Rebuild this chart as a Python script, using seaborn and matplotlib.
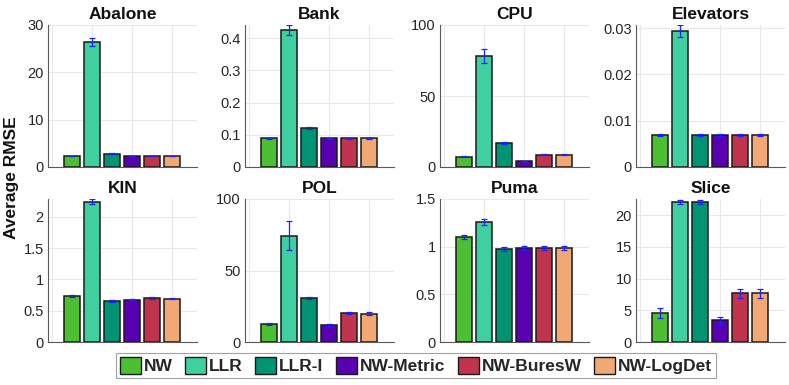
import matplotlib
matplotlib.use("Agg")
import matplotlib.pyplot as plt
import seaborn as sns
import pandas as pd
import numpy as np
from matplotlib.patches import Patch

sns.set_theme(style="white")
plt.rcParams['font.family'] = ['Liberation Sans', 'DejaVu Sans']

methods = ["NW", "LLR", "LLR-I", "NW-Metric", "NW-BuresW", "NW-LogDet"]
colors = ["#4DBF33", "#40CFA0", "#009473", "#5900B3", "#C0344D", "#F2A874"]
datasets = ["Abalone", "Bank", "CPU", "Elevators", "KIN", "POL", "Puma", "Slice"]

abalone = [2.34, 26.4, 2.84, 2.34, 2.34, 2.34]
abalone_err = [0.08, 0.75, 0.08, 0.08, 0.08, 0.08]
bank = [0.0895, 0.4245, 0.1205, 0.0885, 0.0885, 0.0885]
bank_err = [0.002, 0.016, 0.003, 0.002, 0.002, 0.002]
cpu = [7.3, 78.4, 16.7, 4.2, 8.6, 8.6]
cpu_err = [0.4, 4.9, 0.7, 0.2, 0.5, 0.5]
elevators = [0.00693, 0.0294, 0.00693, 0.00693, 0.00693, 0.00693]
elevators_err = [0.0002, 0.0012, 0.0002, 0.0002, 0.0002, 0.0002]
kin = [0.734, 2.24, 0.654, 0.675, 0.702, 0.691]
kin_err = [0.01, 0.04, 0.01, 0.01, 0.01, 0.01]
pol = [12.6, 74.3, 30.8, 11.7, 20.1, 19.9]
pol_err = [0.9, 10.0, 0.7, 0.7, 0.8, 0.8]
puma = [1.105, 1.259, 0.979, 0.986, 0.983, 0.983]
puma_err = [0.02, 0.03, 0.02, 0.02, 0.02, 0.02]
slice_ = [4.58, 22.1, 22.1, 3.42, 7.68, 7.68]
slice_err = [0.8, 0.35, 0.35, 0.6, 0.75, 0.75]

values = [abalone, bank, cpu, elevators, kin, pol, puma, slice_]
errors = [abalone_err, bank_err, cpu_err, elevators_err, kin_err, pol_err, puma_err, slice_err]

yticks = [
    [0, 10, 20, 30],
    [0, 0.1, 0.2, 0.3, 0.4],
    [0, 50, 100],
    [0, 0.01, 0.02, 0.03],
    [0, 0.5, 1, 1.5, 2],
    [0, 50, 100],
    [0, 0.5, 1, 1.5],
    [0, 5, 10, 15, 20],
]
yticklabels = [
    ["0", "10", "20", "30"],
    ["0", "0.1", "0.2", "0.3", "0.4"],
    ["0", "50", "100"],
    ["0", "0.01", "0.02", "0.03"],
    ["0", "0.5", "1", "1.5", "2"],
    ["0", "50", "100"],
    ["0", "0.5", "1", "1.5"],
    ["0", "5", "10", "15", "20"],
]
ytops = [30, 0.4405, 100, 0.0307, 2.285, 100, 1.5, 22.55]

W, H = 789, 385
fig = plt.figure(figsize=(W / 100, H / 100), dpi=100)

lefts = [48, 245, 440, 636]
axw = 149
rows = [(25, 167), (199, 342)]

for i, name in enumerate(datasets):
    r, c = divmod(i, 4)
    top, bot = rows[r]
    ax = fig.add_axes([lefts[c] / W, (H - bot) / H, axw / W, (bot - top) / H])
    df = pd.DataFrame({"method": methods, "value": values[i]})
    sns.barplot(data=df, x="method", y="value", hue="method", order=methods,
                hue_order=methods, palette=colors, saturation=1, width=0.8,
                edgecolor="#1a1a1a", linewidth=1.1, legend=False, ax=ax, zorder=3)
    ax.errorbar(np.arange(len(methods)), values[i], yerr=errors[i], fmt="none",
                ecolor="#2020ff", elinewidth=0.9, capsize=2.2, capthick=0.9, zorder=4)
    ax.set_xlim(-1.18, 6.25)
    ax.set_ylim(0, ytops[i])
    ax.set_yticks(yticks[i])
    ax.set_yticklabels(yticklabels[i])
    ax.set_xticks([-1, 1, 3, 5])
    ax.set_xticklabels([])
    ax.set_xlabel("")
    ax.set_ylabel("")
    ax.grid(True, color="#e8e8e8", linewidth=0.8, zorder=0)
    ax.set_axisbelow(True)
    for s in ["top", "right"]:
        ax.spines[s].set_visible(False)
    for s in ["left", "bottom"]:
        ax.spines[s].set_color("#5a5a5a")
        ax.spines[s].set_linewidth(0.8)
    ax.tick_params(axis="y", direction="in", length=2.5, width=0.6, colors="#5a5a5a",
                   labelcolor="#262626", labelsize=10.5, pad=3)
    ax.tick_params(axis="x", length=0)
    ax.set_title(name, fontsize=12.5, fontweight="bold", pad=4, color="#111111")

fig.text(12 / W, 1 - 178 / H, "Average RMSE", rotation=90, fontsize=12.5,
         fontweight="bold", ha="center", va="center", color="#111111")

handles = [Patch(facecolor=c, edgecolor="#1a1a1a", linewidth=1.0) for c in colors]
leg = fig.legend(handles, methods, ncol=6, loc="center",
                 bbox_to_anchor=(416 / W, 1 - 365.5 / H), frameon=True, fancybox=False,
                 handlelength=1.2, handleheight=1.2, handletextpad=0.15,
                 columnspacing=0.75, borderpad=0.2,
                 prop={"weight": "bold", "size": 12.5})
leg.get_frame().set_edgecolor("#8a8a8a")
leg.get_frame().set_linewidth(0.8)

fig.savefig("out.png", dpi=100)
